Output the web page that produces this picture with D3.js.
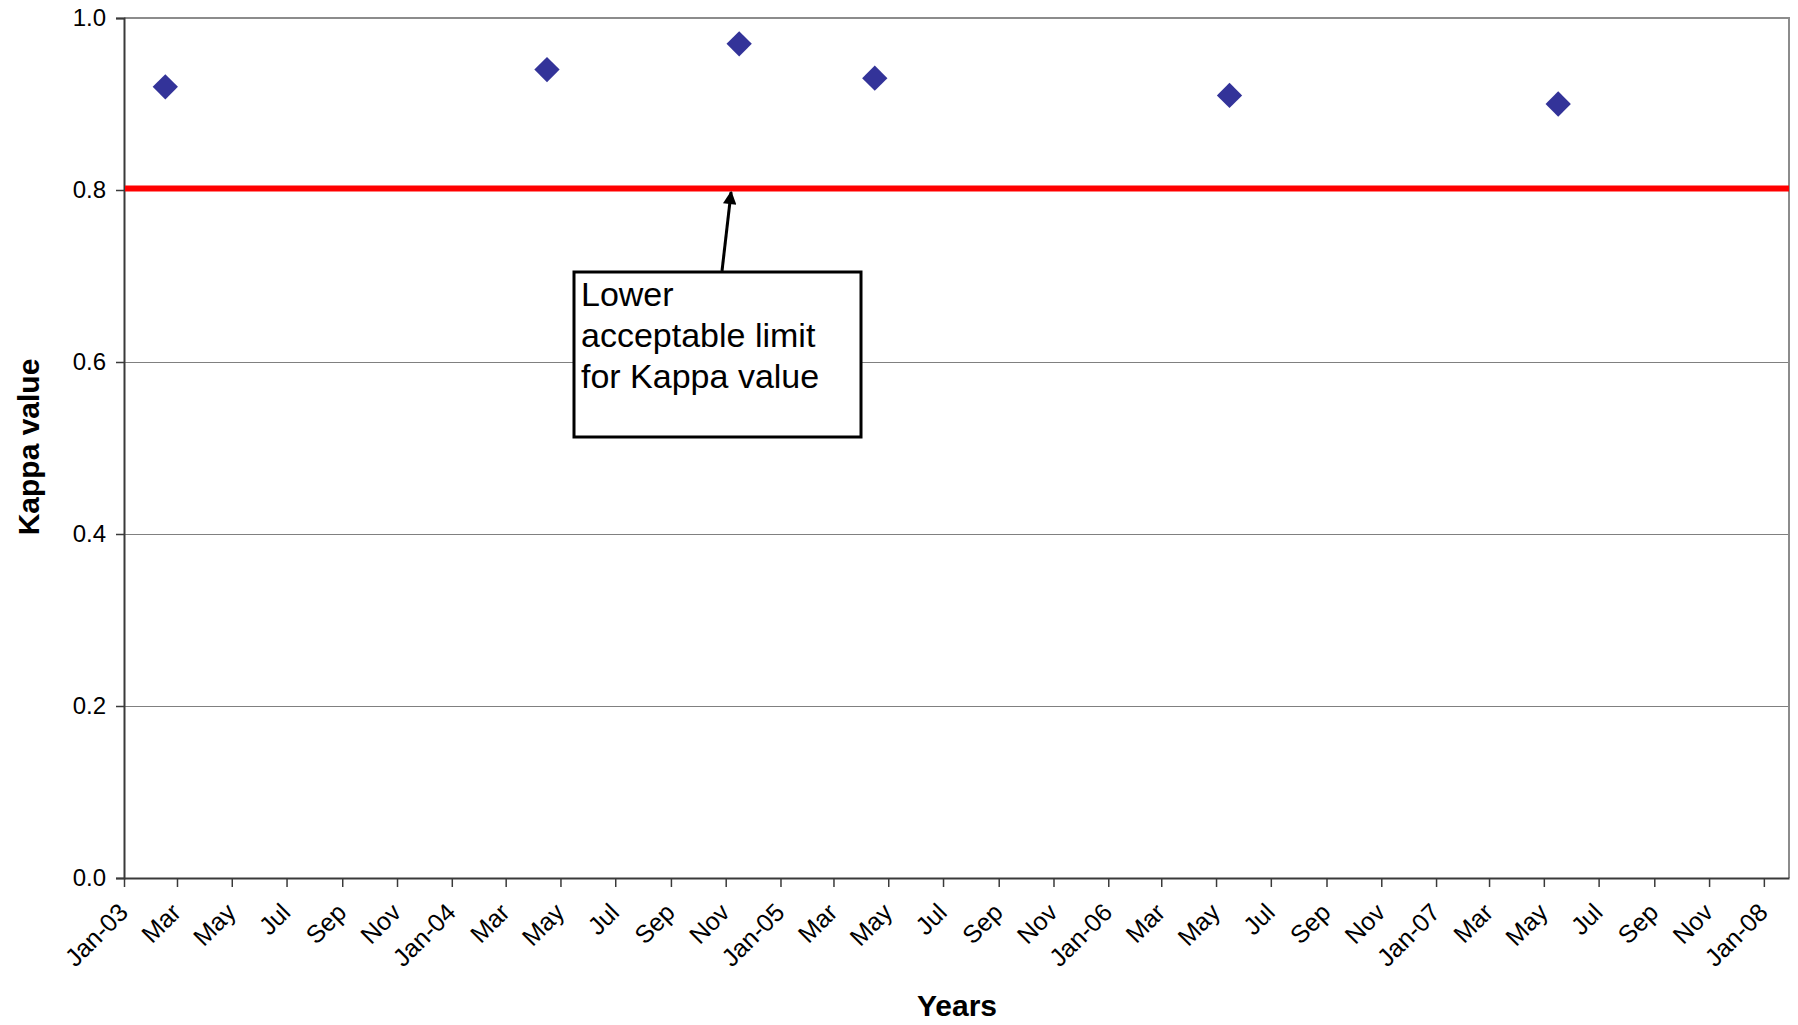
<!DOCTYPE html>
<html>
<head>
<meta charset="utf-8">
<script src="https://cdn.jsdelivr.net/npm/d3@7"></script>
<style>
  html, body { margin: 0; padding: 0; background: #fff; }
  svg { display: block; font-family: "Liberation Sans", Arial, sans-serif; }
</style>
</head>
<body>
<svg id="chart" width="1798" height="1025"></svg>
<script>
// ---- Data ----
const sampleDates = ["2003-02-16", "2004-04-16", "2004-11-16", "2005-04-16", "2006-05-16", "2007-05-17"];
const kappaValues = [0.92, 0.94, 0.97, 0.93, 0.91, 0.90];
const lowerLimit = 0.8;
const yTicks = [0, 0.2, 0.4, 0.6, 0.8, 1.0];
const xDomain = ["2003-01-01", "2008-01-29"];
const monthNames = ["Jan","Feb","Mar","Apr","May","Jun","Jul","Aug","Sep","Oct","Nov","Dec"];
const annotationLines = ["Lower", "acceptable limit", "for Kappa value"];
const arrowTargetDate = "2004-11-07";
const xTitle = "Years";
const yTitle = "Kappa value";

// ---- Layout ----
const m = { left: 124, top: 18, right: 1789, bottom: 878 };
const parse = d3.utcParse("%Y-%m-%d");

const svg = d3.select("#chart");

const x = d3.scaleUtc()
  .domain(xDomain.map(parse))
  .range([m.left, m.right]);
const y = d3.scaleLinear()
  .domain([0, 1])
  .range([m.bottom, m.top]);

// gridlines
svg.append("g")
  .attr("shape-rendering", "crispEdges")
  .selectAll("line")
  .data(yTicks.filter(v => v > 0 && v < 1))
  .join("line")
  .attr("x1", m.left).attr("x2", m.right)
  .attr("y1", d => Math.round(y(d)) + 0.5).attr("y2", d => Math.round(y(d)) + 0.5)
  .attr("stroke", "#808080").attr("stroke-width", 1);

// plot border (top / right)
svg.append("path")
  .attr("d", `M${m.left},${m.top}H${m.right}V${m.bottom}`)
  .attr("fill", "none")
  .attr("stroke", "#8c8c8c")
  .attr("stroke-width", 2);

// Y axis
const yAxis = d3.axisLeft(y)
  .tickValues(yTicks)
  .tickFormat(d3.format(".1f"))
  .tickSize(8)
  .tickPadding(10);
const gy = svg.append("g")
  .attr("transform", `translate(${m.left},0)`)
  .call(yAxis);
gy.attr("font-size", 24).attr("font-family", "Liberation Sans, Arial, sans-serif");
gy.select(".domain").attr("stroke", "#3a3a3a").attr("stroke-width", 2);
gy.selectAll(".tick line").attr("stroke", "#3a3a3a").attr("stroke-width", 1.5);
gy.selectAll(".tick text").attr("fill", "#000");

// X axis
const xTickDates = d3.utcMonth.every(2).range(parse("2003-01-01"), parse("2008-01-02"));
const fmtTick = d => d.getUTCMonth() === 0
  ? `Jan-${String(d.getUTCFullYear() % 100).padStart(2, "0")}`
  : monthNames[d.getUTCMonth()];
const xAxis = d3.axisBottom(x)
  .tickValues(xTickDates)
  .tickFormat(fmtTick)
  .tickSize(9)
  .tickSizeOuter(0);
const gx = svg.append("g")
  .attr("transform", `translate(0,${m.bottom})`)
  .call(xAxis);
gx.attr("font-size", 25).attr("font-family", "Liberation Sans, Arial, sans-serif");
gx.select(".domain").attr("stroke", "#3a3a3a").attr("stroke-width", 2);
gx.selectAll(".tick line").attr("stroke", "#3a3a3a").attr("stroke-width", 1.5);
gx.selectAll(".tick text")
  .attr("fill", "#000")
  .attr("text-anchor", "end")
  .attr("dy", 0)
  .attr("y", 0)
  .attr("transform", "translate(5,36) rotate(-45)");

// Lower limit line
svg.append("line")
  .attr("x1", m.left + 1).attr("x2", m.right)
  .attr("y1", y(lowerLimit) - 1.5).attr("y2", y(lowerLimit) - 1.5)
  .attr("stroke", "#ff0000")
  .attr("stroke-width", 6);

// Data points (diamonds)
const diamond = d3.symbol().type(d3.symbolSquare).size(320);
svg.append("g")
  .selectAll("path")
  .data(sampleDates.map((d, i) => ({ date: parse(d), v: kappaValues[i] })))
  .join("path")
  .attr("d", diamond)
  .attr("transform", d => `translate(${x(d.date)},${y(d.v)}) rotate(45)`)
  .attr("fill", "#333399");

// Annotation arrow
const arrowTip = { x: x(parse(arrowTargetDate)), y: y(lowerLimit) + 2 };
const arrowBase = { x: 722, y: 271 };
svg.append("defs").append("marker")
  .attr("id", "arrowhead")
  .attr("viewBox", "0 0 10 10")
  .attr("refX", 9).attr("refY", 5)
  .attr("markerWidth", 5.5).attr("markerHeight", 4.5)
  .attr("orient", "auto")
  .attr("markerUnits", "strokeWidth")
  .append("path")
  .attr("d", "M0,0L10,5L0,10Z")
  .attr("fill", "#000");
svg.append("line")
  .attr("x1", arrowBase.x).attr("y1", arrowBase.y)
  .attr("x2", arrowTip.x).attr("y2", arrowTip.y)
  .attr("stroke", "#000").attr("stroke-width", 3)
  .attr("marker-end", "url(#arrowhead)");

// Annotation box
const box = { x: 574, y: 272, w: 287, h: 165 };
svg.append("rect")
  .attr("x", box.x).attr("y", box.y)
  .attr("width", box.w).attr("height", box.h)
  .attr("fill", "#fff")
  .attr("stroke", "#000")
  .attr("stroke-width", 3);
svg.append("g")
  .selectAll("text")
  .data(annotationLines)
  .join("text")
  .attr("x", box.x + 7)
  .attr("y", (d, i) => 306 + i * 41)
  .attr("font-size", 34)
  .attr("fill", "#000")
  .text(d => d);

// Axis titles
svg.append("text")
  .attr("x", 957).attr("y", 1016)
  .attr("text-anchor", "middle")
  .attr("font-size", 30)
  .attr("font-weight", "bold")
  .attr("fill", "#000")
  .text(xTitle);
svg.append("text")
  .attr("transform", `translate(39,447) rotate(-90)`)
  .attr("text-anchor", "middle")
  .attr("font-size", 30)
  .attr("font-weight", "bold")
  .attr("fill", "#000")
  .text(yTitle);
</script>
</body>
</html>
